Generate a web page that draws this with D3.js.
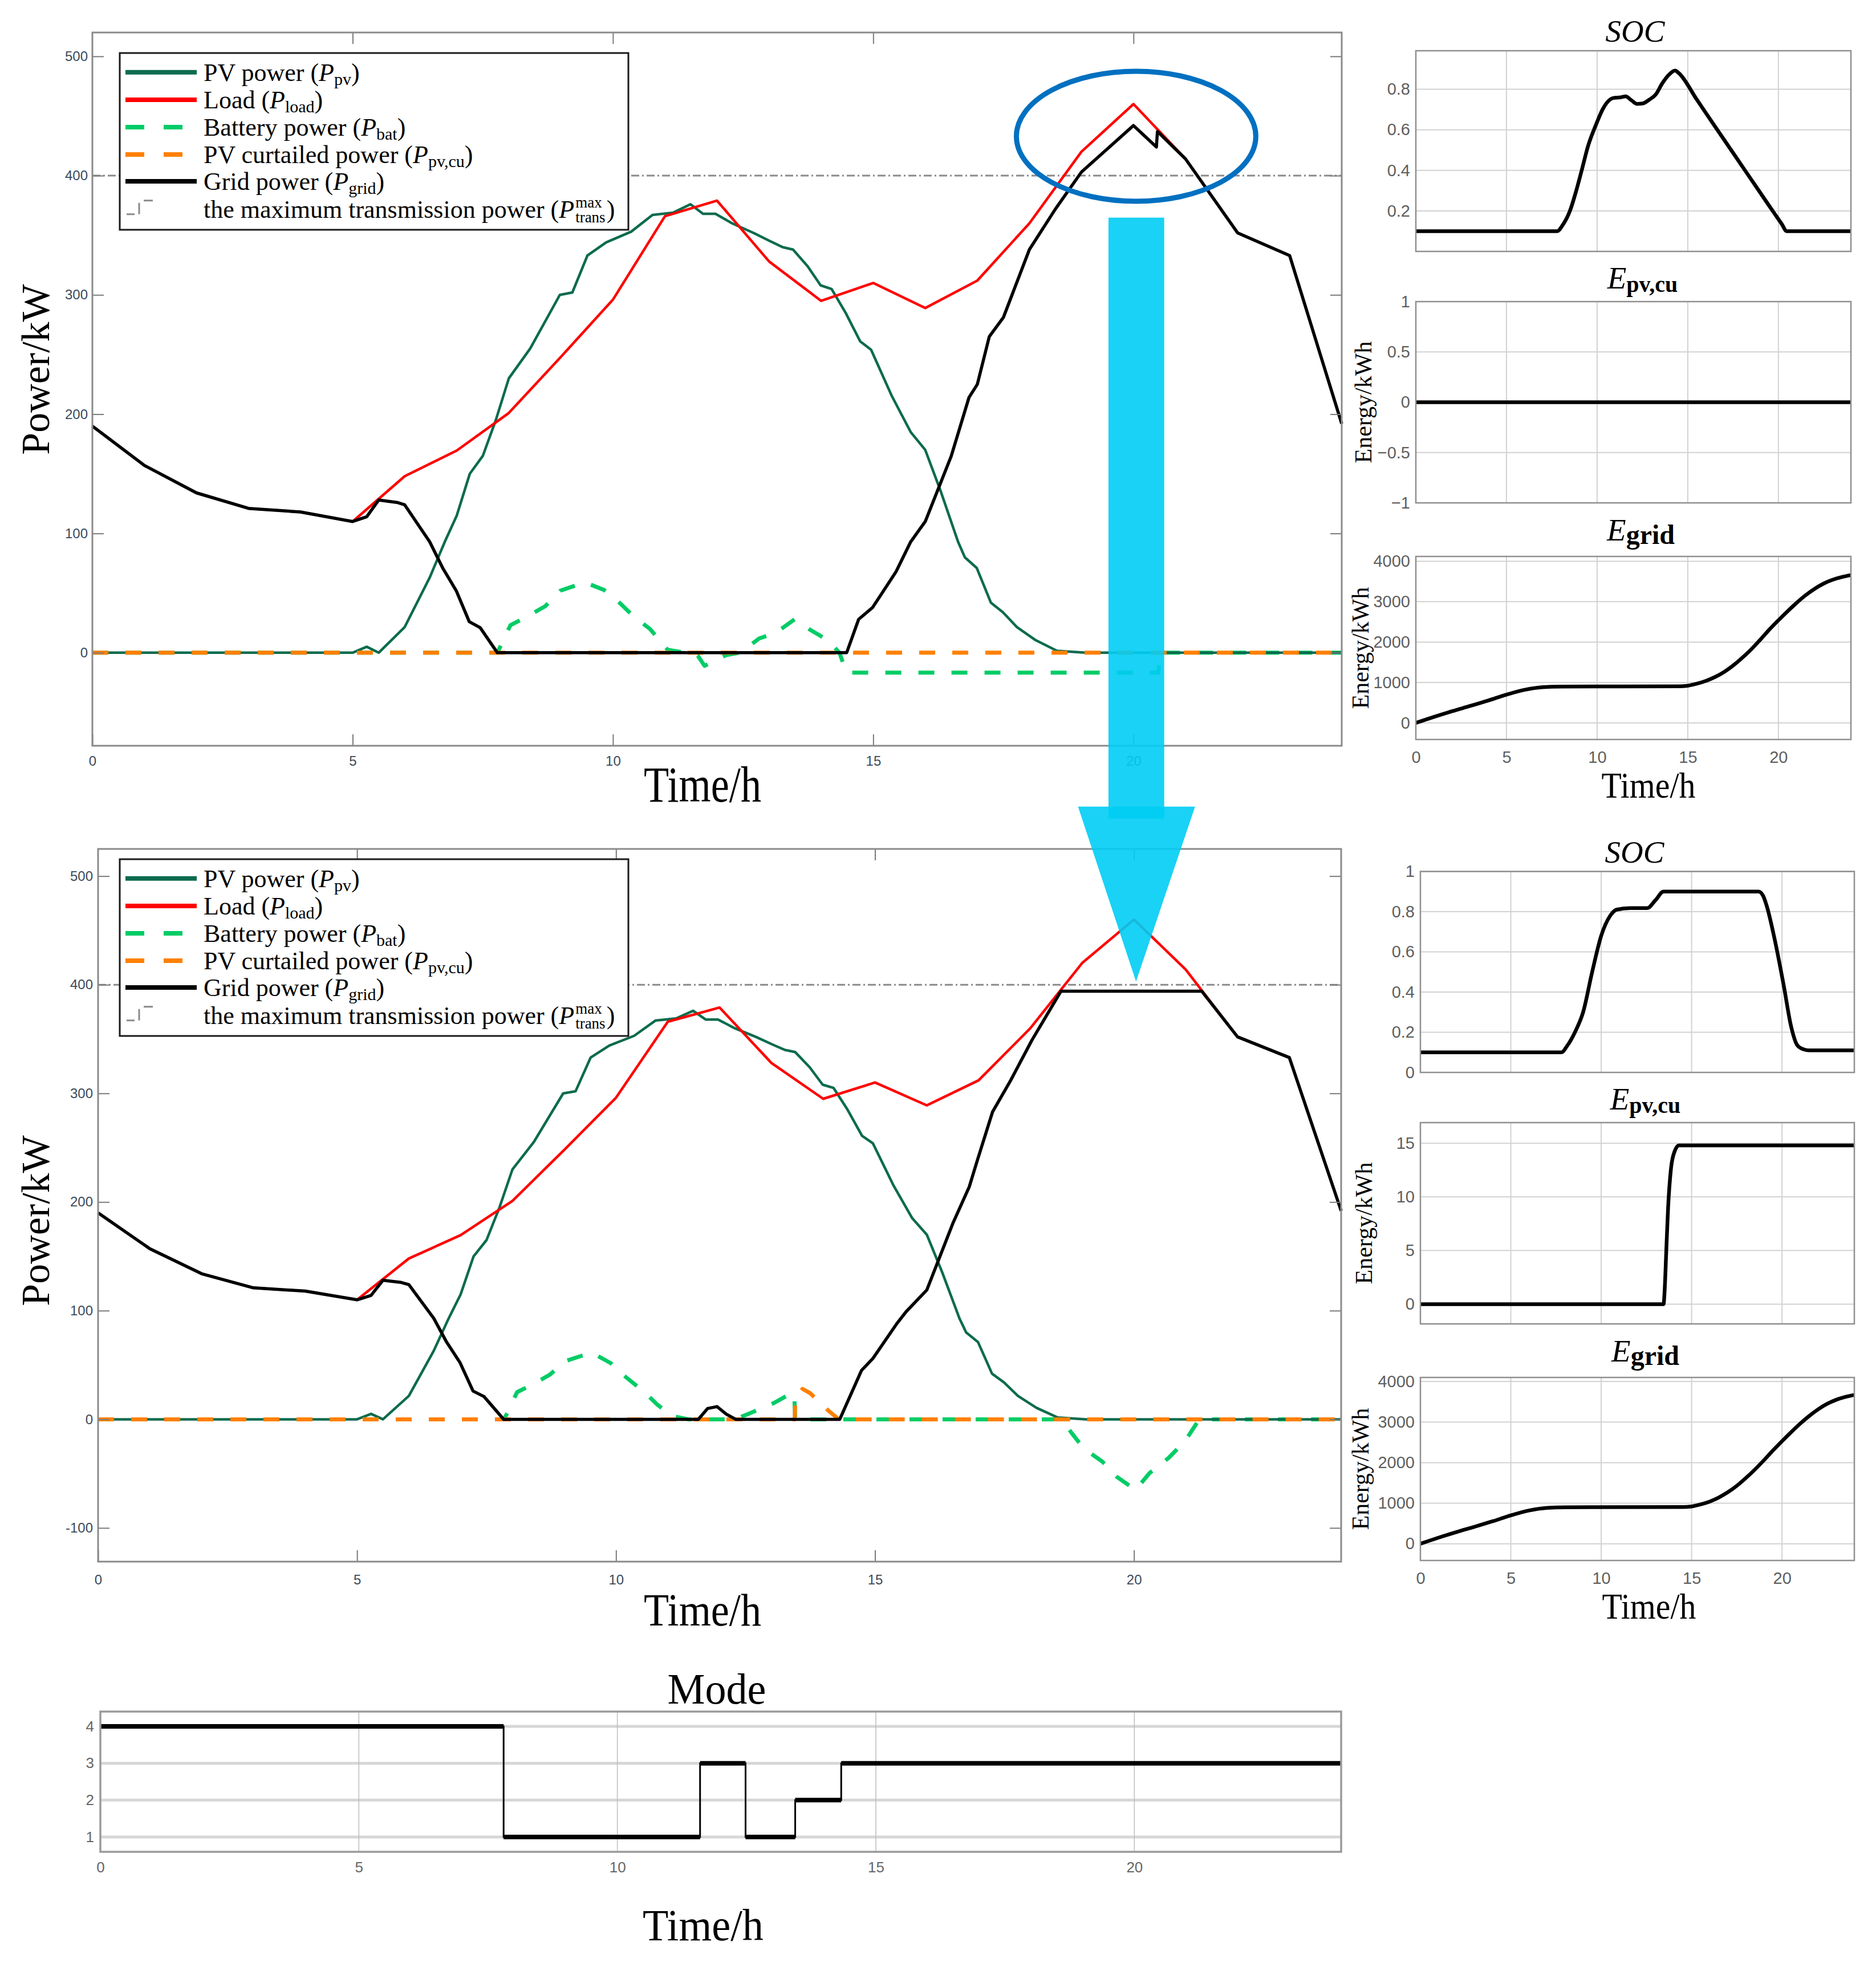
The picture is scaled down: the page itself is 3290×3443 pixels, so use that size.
<!DOCTYPE html>
<html><head><meta charset="utf-8">
<script src="https://cdn.jsdelivr.net/npm/d3@7"></script>
<style>body{margin:0;background:#fff}svg{display:block}</style>
</head><body>
<svg id="c" width="3290" height="3443"></svg>
<script>
// ---------------- DATA ----------------
const timeTicks = [0,5,10,15,20];
const powerTicksTop = [0,100,200,300,400,500];
const powerTicksBottom = [-100,0,100,200,300,400,500];
const modeTicks = [1,2,3,4];
const socTicksTop = [0.2,0.4,0.6,0.8];
const socTicksBottom = [0,0.2,0.4,0.6,0.8,1];
const epvTicksTop = [-1,-0.5,0,0.5,1];
const epvTicksBottom = [0,5,10,15];
const egridTicks = [0,1000,2000,3000,4000];
const maxTrans = 400;

const pvPower = [[0,0],[5,0],[5.27,5],[5.5,0],[6.0,21.5],[6.48,63],[6.77,93],[7.0,115],[7.25,150],[7.5,165],[7.75,195],[8.0,230],[8.41,255],[8.98,300],[9.22,302],[9.51,333],[9.87,344],[10.35,353],[10.76,367],[11.16,369],[11.49,376],[11.73,368],[11.97,368],[12.29,360],[12.7,352],[13.02,345],[13.26,340],[13.46,338],[13.74,324],[13.99,308],[14.2,305],[14.47,285],[14.75,261],[14.96,254],[15.36,215],[15.72,185],[16.0,170],[16.3,135],[16.63,93],[16.76,80],[16.99,71],[17.26,42],[17.49,34],[17.76,21.5],[18.12,10.5],[18.53,1.6],[19.08,0],[24,0]];

const loadPower = [[0,190],[1,157],[2,134],[3,121],[4,118],[5,110],[6,148],[7,169.5],[8,201],[9,248],[10,296],[11,366],[12,379],[13,328],[14,295],[15,310],[16,289],[17,312],[18,360],[19,420],[20,460],[21,414],[22,352],[23,333],[24,192]];

const gridTop = [[0,190],[1,157],[2,134],[3,121],[4,118],[5,110],[5.27,114],[5.5,128],[5.85,126],[6.0,124],[6.48,93],[6.73,71],[6.99,52],[7.24,26],[7.45,21],[7.78,0],[14.49,0],[14.72,28],[14.99,38],[15.44,68],[15.72,93],[16.0,110],[16.5,165],[16.84,214],[17.0,225],[17.23,265],[17.5,281],[18.0,338],[18.5,372],[19.0,403],[20.0,442],[20.44,424],[20.46,437],[21,414],[22,352],[23,333],[24,192]];

const gridBottom = [[0,190],[1,157],[2,134],[3,121],[4,118],[5,110],[5.27,114],[5.5,128],[5.85,126],[6.0,124],[6.48,93],[6.73,71],[6.99,52],[7.24,26],[7.45,21],[7.83,0],[11.59,0],[11.77,10],[11.95,11.7],[12.13,4.7],[12.31,0],[14.32,0],[14.74,45],[14.96,56],[15.42,88],[15.6,99],[16.0,119],[16.5,180],[16.82,214],[16.98,239],[17.27,283],[17.62,312],[18.03,349],[18.59,394],[21.31,394],[22,352],[23,333],[24,192]];

const batteryTop = [[0,0],[7.78,0],[8.03,23],[8.32,29.6],[8.7,39],[8.99,52],[9.46,59],[9.83,52.6],[10.04,45.5],[10.42,29.6],[10.71,20],[11.05,2.5],[11.4,0],[11.63,-2.5],[11.76,-11],[12.17,-2],[12.45,0],[12.81,12],[13.13,16.7],[13.49,28],[13.76,20],[14.13,10.5],[14.35,0],[14.49,-16.7],[20.48,-16.7],[20.5,0],[24,0]];

const batteryBottom = [[0,0],[7.84,0],[8.09,25],[8.39,32],[8.72,41],[9.02,53.5],[9.53,61.5],[9.9,51.6],[10.16,40],[10.54,25.4],[10.79,13.8],[11.08,3],[11.4,0],[12.3,0],[12.54,4.7],[13.05,15],[13.31,22],[13.44,24],[13.46,0],[18.6,0],[18.8,-12.8],[19.03,-26.8],[19.39,-39],[19.67,-53],[20.03,-65],[20.3,-49.5],[20.67,-35.5],[20.99,-19.8],[21.26,0],[24,0]];

const curtailTop = [[0,0],[24,0]];
const curtailBottom = [[0,0],[13.45,0],[13.46,18],[13.6,28],[13.75,24],[13.9,17],[14.1,8],[14.3,0],[24,0]];

const modeSteps = [[0,4],[7.8,1],[11.6,3],[12.48,1],[13.44,2],[14.33,3],[24,3]];

const socTop = [[0,0.1],[7.8,0.1],[8.1,0.13],[8.5,0.2],[8.85,0.3],[9.15,0.4],[9.5,0.52],[9.96,0.63],[10.3,0.7],[10.6,0.74],[10.9,0.757],[11.3,0.76],[11.57,0.765],[11.9,0.745],[12.2,0.728],[12.5,0.73],[12.9,0.75],[13.24,0.775],[13.6,0.83],[14.0,0.875],[14.3,0.892],[14.5,0.88],[15.5,0.749],[16.5,0.617],[17.5,0.486],[18.5,0.355],[19.5,0.224],[20.2,0.133],[20.45,0.1],[21,0.1],[24,0.1]];
const socBottom = [[0,0.1],[7.8,0.1],[8.1,0.13],[8.58,0.206],[9.0,0.3],[9.5,0.5],[10.0,0.68],[10.5,0.78],[10.85,0.81],[11.6,0.818],[12.55,0.818],[13.0,0.857],[13.45,0.9],[18.7,0.9],[18.95,0.88],[19.15,0.83],[19.6,0.66],[20.1,0.43],[20.5,0.23],[20.85,0.135],[21.2,0.115],[21.5,0.11],[24,0.11]];
const epvTop = [[0,0],[24,0]];
const epvBottom = [[0,0],[13.45,0],[13.5,1],[13.6,5],[13.7,9],[13.85,12.5],[14.05,14.2],[14.3,14.8],[24,14.8]];
const egridTop = [[0,0],[1,150],[2,290],[3,420],[4,555],[5,700],[6,820],[7,885],[8,900],[14.5,905],[15,920],[15.5,970],[16,1040],[16.5,1135],[17,1260],[17.5,1420],[18,1610],[18.5,1820],[19,2060],[19.5,2310],[20,2540],[20.5,2760],[21,2970],[21.5,3160],[22,3320],[22.5,3450],[23,3545],[23.5,3610],[24,3660]];
const egridBottom = [[0,0],[1,150],[2,290],[3,420],[4,555],[5,700],[6,820],[7,885],[8,900],[14.5,905],[15,920],[15.5,970],[16,1040],[16.5,1140],[17,1270],[17.5,1430],[18,1620],[18.5,1830],[19,2060],[19.5,2300],[20,2530],[20.5,2750],[21,2960],[21.5,3150],[22,3315],[22.5,3450],[23,3550],[23.5,3620],[24,3670]];

const legendLabels = ['PV power (','Load (','Battery power (','PV curtailed power (','Grid power ('];
const legendSubs = ['pv','load','bat','pv,cu','grid'];

// ---------------- STYLE ----------------
const SERIF = "'Liberation Serif','Times New Roman',serif";
const SANS = "'Liberation Sans',Arial,sans-serif";
const C = {pv:'#0d6b4e', load:'#ff0000', bat:'#00cc66', cur:'#ff8000', grid:'#000000', trans:'#8a8a8a'};
const svg = d3.select('#c');

function styleAxis(ax, size, color) {
  ax.select('.domain').remove();
  ax.selectAll('line').attr('stroke','#7a7a7a').attr('stroke-width',2);
  ax.selectAll('text').attr('font-family',SANS).attr('font-size',size).attr('fill',color);
}

function drawLegend(top) {
  const L = 210, W = 892, H = 310;
  const g = svg.append('g');
  g.append('rect').attr('x',L).attr('y',top).attr('width',W).attr('height',H)
    .attr('fill','#fff').attr('stroke','#1a1a1a').attr('stroke-width',3);
  const colors = [C.pv,C.load,C.bat,C.cur,C.grid];
  const dashes = [null,null,'33,34','33,34',null];
  const baseOff = [48.7,97,145,193,240];
  legendLabels.forEach((lab,i)=>{
    const b = top + baseOff[i];
    g.append('line').attr('x1',220).attr('x2',345).attr('y1',b-15).attr('y2',b-15)
      .attr('stroke',colors[i]).attr('stroke-width',8).attr('stroke-dasharray',dashes[i]);
    const t = g.append('text').attr('x',357).attr('y',b).attr('font-family',SERIF).attr('font-size',44).attr('fill','#000');
    t.append('tspan').text(lab);
    t.append('tspan').attr('font-style','italic').text('P');
    t.append('tspan').attr('font-size',30).attr('dy',7).text(legendSubs[i]);
    t.append('tspan').attr('dy',-7).text(')');
  });
  const b6 = top + 288.7;
  g.append('path').attr('d',`M222,${b6-6}H236M244,${b6-6}V${b6-26}M252,${b6-30}H268`)
    .attr('fill','none').attr('stroke',C.trans).attr('stroke-width',3);
  const t6 = g.append('text').attr('x',357).attr('y',b6).attr('font-family',SERIF).attr('font-size',44);
  t6.append('tspan').text('the maximum transmission power (');
  t6.append('tspan').attr('font-style','italic').text('P');
  const w6 = t6.node().getComputedTextLength();
  g.append('text').attr('x',357+w6+2).attr('y',b6-18).attr('font-family',SERIF).attr('font-size',27).text('max');
  const tr = g.append('text').attr('x',357+w6+2).attr('y',b6+8).attr('font-family',SERIF).attr('font-size',27).text('trans');
  const wt = tr.node().getComputedTextLength();
  g.append('text').attr('x',357+w6+4+wt).attr('y',b6).attr('font-family',SERIF).attr('font-size',44).text(')');
}

function drawMain(o) {
  const x = d3.scaleLinear().domain([0,24]).range([o.left,o.right]);
  const y = d3.scaleLinear().domain(o.yDomain).range([o.bottom,o.top]);
  const g = svg.append('g');
  const ln = d3.line().x(d=>x(d[0])).y(d=>y(d[1]));
  g.append('line').attr('x1',x(0)).attr('x2',x(24)).attr('y1',y(maxTrans)).attr('y2',y(maxTrans))
    .attr('stroke',C.trans).attr('stroke-width',3).attr('stroke-dasharray','14,5,3,5');
  const add = (data,color,w,dash) => g.append('path').datum(data).attr('d',ln).attr('fill','none')
    .attr('stroke',color).attr('stroke-width',w).attr('stroke-linejoin','round').attr('stroke-dasharray',dash);
  add(o.bat, C.bat, 7, '28,30');
  add(pvPower, C.pv, 4.5, null);
  add(loadPower, C.load, 4.5, null);
  add(o.cur, C.cur, 7, '28,30');
  add(o.grid, C.grid, 5.5, null);
  const tc = '#3b4a5a';
  const ab = g.append('g').attr('transform',`translate(0,${o.bottom})`)
    .call(d3.axisBottom(x).tickValues(timeTicks).tickSizeInner(-20).tickSizeOuter(0).tickPadding(o.xPad).tickFormat(d=>String(d)));
  styleAxis(ab,24,tc);
  const at = g.append('g').attr('transform',`translate(0,${o.top})`)
    .call(d3.axisTop(x).tickValues(timeTicks.filter(t=>t>0)).tickSizeInner(-20).tickSizeOuter(0).tickFormat(''));
  styleAxis(at,24,tc);
  const al = g.append('g').attr('transform',`translate(${o.left},0)`)
    .call(d3.axisLeft(y).tickValues(o.yTicks).tickSizeInner(-20).tickSizeOuter(0).tickPadding(o.yPad).tickFormat(d=>String(d)));
  styleAxis(al,24,tc);
  const ar = g.append('g').attr('transform',`translate(${o.right},0)`)
    .call(d3.axisRight(y).tickValues(o.yTicks).tickSizeInner(-20).tickSizeOuter(0).tickFormat(''));
  styleAxis(ar,24,tc);
  g.append('rect').attr('x',o.left).attr('y',o.top).attr('width',o.right-o.left).attr('height',o.bottom-o.top)
    .attr('fill','none').attr('stroke','#8a8a8a').attr('stroke-width',3);
  drawLegend(o.legendTop);
  svg.append('text').attr('transform',`translate(86,${o.yLabelY}) rotate(-90)`).attr('text-anchor','middle')
    .attr('font-family',SERIF).attr('font-size',70).text('Power/kW');
  svg.append('text').attr('x',1232).attr('y',o.xLabelY).attr('text-anchor','middle')
    .attr('font-family',SERIF).attr('font-size',o.xLabelSize).attr('textLength',206).attr('lengthAdjust','spacingAndGlyphs').text('Time/h');
  return {x,y};
}

function drawSmall(o) {
  const x = d3.scaleLinear().domain([0,24]).range([o.left,o.right]);
  const y = d3.scaleLinear().domain(o.domain).range([o.bottom,o.top]);
  const g = svg.append('g');
  g.selectAll('line.gx').data(timeTicks.filter(t=>t>0)).join('line').attr('class','gx')
    .attr('x1',d=>x(d)).attr('x2',d=>x(d)).attr('y1',o.top).attr('y2',o.bottom).attr('stroke','#d2d2d2').attr('stroke-width',2);
  g.selectAll('line.gy').data(o.ticks).join('line').attr('class','gy')
    .attr('x1',o.left).attr('x2',o.right).attr('y1',d=>y(d)).attr('y2',d=>y(d)).attr('stroke','#d2d2d2').attr('stroke-width',2);
  g.append('path').datum(o.data).attr('d',d3.line().x(d=>x(d[0])).y(d=>y(d[1])).curve(o.curve||d3.curveLinear))
    .attr('fill','none').attr('stroke','#000').attr('stroke-width',6.5).attr('stroke-linejoin','round');
  g.append('rect').attr('x',o.left).attr('y',o.top).attr('width',o.right-o.left).attr('height',o.bottom-o.top)
    .attr('fill','none').attr('stroke','#8f8f8f').attr('stroke-width',2.5);
  const al = g.append('g').attr('transform',`translate(${o.left},0)`)
    .call(d3.axisLeft(y).tickValues(o.ticks).tickSize(0).tickPadding(10).tickFormat(o.fmt));
  styleAxis(al,29,'#5e5e5e');
  if (o.xLabels) {
    const ab = g.append('g').attr('transform',`translate(0,${o.bottom})`)
      .call(d3.axisBottom(x).tickValues(timeTicks).tickSize(0).tickPadding(20).tickFormat(d=>String(d)));
    styleAxis(ab,29,'#5e5e5e');
  }
  const cx = (o.left+o.right)/2 + o.titleDx;
  const t = svg.append('text').attr('x',cx).attr('y',o.titleY).attr('text-anchor','middle').attr('font-family',SERIF);
  t.append('tspan').attr('font-style','italic').attr('font-size',55).text(o.title);
  if (o.sub) t.append('tspan').attr('font-weight','bold').attr('font-size',o.subSize).attr('dy',6).text(o.sub);
  if (o.ylab) {
    svg.append('text').attr('transform',`translate(${o.ylabX},${(o.top+o.bottom)/2}) rotate(-90)`).attr('text-anchor','middle')
      .attr('font-family',SERIF).attr('font-size',42).text('Energy/kWh');
  }
  return {x,y};
}

// ---------------- MAIN CHARTS ----------------
const topM = drawMain({left:162,right:2353,top:57,bottom:1308,yDomain:[-78,520],yTicks:powerTicksTop,
  bat:batteryTop,cur:curtailTop,grid:gridTop,xPad:18,yPad:8,legendTop:93,yLabelY:648,xLabelY:1406,xLabelSize:88});
const botM = drawMain({left:172,right:2352,top:1489,bottom:2739,yDomain:[-131,525],yTicks:powerTicksBottom,
  bat:batteryBottom,cur:curtailBottom,grid:gridBottom,xPad:23,yPad:9,legendTop:1507,yLabelY:2141,xLabelY:2851,xLabelSize:80});

// ---------------- MODE ----------------
(function(){
  const x = d3.scaleLinear().domain([0,24]).range([176,2352]);
  const y = d3.scaleLinear().domain([0.6,4.4]).range([3248,3002]);
  const g = svg.append('g');
  g.selectAll('line.gy').data(modeTicks).join('line').attr('class','gy')
    .attr('x1',x(0)).attr('x2',x(24)).attr('y1',d=>y(d)).attr('y2',d=>y(d)).attr('stroke','#d6d6d6').attr('stroke-width',5);
  g.selectAll('line.gx').data(timeTicks.filter(t=>t>0)).join('line').attr('class','gx')
    .attr('x1',d=>x(d)).attr('x2',d=>x(d)).attr('y1',3002).attr('y2',3248).attr('stroke','#bdbdbd').attr('stroke-width',1.5);
  g.append('path').datum(modeSteps).attr('d',d3.line().x(d=>x(d[0])).y(d=>y(d[1])).curve(d3.curveStepAfter))
    .attr('fill','none').attr('stroke','#000').attr('stroke-width',3);
  const segs = modeSteps.slice(0,-1).map((d,i)=>[d[0],modeSteps[i+1][0],d[1]]);
  g.selectAll('line.seg').data(segs).join('line').attr('class','seg')
    .attr('x1',d=>x(d[0])).attr('x2',d=>x(d[1])).attr('y1',d=>y(d[2])).attr('y2',d=>y(d[2]))
    .attr('stroke','#000').attr('stroke-width',8);
  g.append('rect').attr('x',176).attr('y',3002).attr('width',2352-176).attr('height',246)
    .attr('fill','none').attr('stroke','#9a9a9a').attr('stroke-width',3.5);
  const al = g.append('g').attr('transform',`translate(176,0)`)
    .call(d3.axisLeft(y).tickValues(modeTicks).tickSize(0).tickPadding(11).tickFormat(d=>String(d)));
  styleAxis(al,26,'#666');
  const ab = g.append('g').attr('transform',`translate(0,3248)`)
    .call(d3.axisBottom(x).tickValues(timeTicks).tickSize(0).tickPadding(18).tickFormat(d=>String(d)));
  styleAxis(ab,26,'#666');
  svg.append('text').attr('x',1257).attr('y',2988).attr('text-anchor','middle').attr('font-family',SERIF)
    .attr('font-size',76).attr('textLength',173).attr('lengthAdjust','spacingAndGlyphs').text('Mode');
  svg.append('text').attr('x',1233).attr('y',3403).attr('text-anchor','middle').attr('font-family',SERIF)
    .attr('font-size',78).attr('textLength',212).attr('lengthAdjust','spacingAndGlyphs').text('Time/h');
})();

// ---------------- RIGHT PANELS ----------------
const fmtSoc = d => String(d);
const fmtE = d => d<0 ? '\u2212'+Math.abs(d) : String(d);
drawSmall({left:2483,right:3246,top:89,bottom:441,domain:[0,0.99],ticks:socTicksTop,data:socTop,fmt:fmtSoc,
  curve:d3.curveMonotoneX,title:'SOC',titleY:73,titleDx:3});
drawSmall({left:2483,right:3246,top:529,bottom:882,domain:[-1,1],ticks:epvTicksTop,data:epvTop,fmt:fmtE,
  title:'E',sub:'pv,cu',subSize:40,titleY:506,titleDx:16,ylab:true,ylabX:2405});
drawSmall({left:2483,right:3246,top:976,bottom:1297,domain:[-410,4120],ticks:egridTicks,data:egridTop,fmt:fmtE,
  curve:d3.curveMonotoneX,title:'E',sub:'grid',subSize:48,titleY:948,titleDx:13,ylab:true,ylabX:2400,xLabels:true});
drawSmall({left:2491,right:3252,top:1528.5,bottom:1881,domain:[0,1],ticks:socTicksBottom,data:socBottom,fmt:fmtSoc,
  curve:d3.curveMonotoneX,title:'SOC',titleY:1513,titleDx:-5});
drawSmall({left:2491,right:3252,top:1969,bottom:2322,domain:[-1.84,16.93],ticks:epvTicksBottom,data:epvBottom,fmt:fmtE,
  curve:d3.curveMonotoneX,title:'E',sub:'pv,cu',subSize:40,titleY:1946,titleDx:14,ylab:true,ylabX:2406});
drawSmall({left:2491,right:3252,top:2416,bottom:2737,domain:[-412,4100],ticks:egridTicks,data:egridBottom,fmt:fmtE,
  curve:d3.curveMonotoneX,title:'E',sub:'grid',subSize:48,titleY:2388,titleDx:14,ylab:true,ylabX:2400,xLabels:true});
svg.append('text').attr('x',2891).attr('y',1399).attr('text-anchor','middle').attr('font-family',SERIF)
  .attr('font-size',64).attr('textLength',165).attr('lengthAdjust','spacingAndGlyphs').text('Time/h');
svg.append('text').attr('x',2892).attr('y',2839).attr('text-anchor','middle').attr('font-family',SERIF)
  .attr('font-size',64).attr('textLength',165).attr('lengthAdjust','spacingAndGlyphs').text('Time/h');

// ---------------- ANNOTATIONS ----------------
const annEllipse = {t:20.05, v:433, rt:2.3, rv:54.5};
svg.append('ellipse').attr('cx',topM.x(annEllipse.t)).attr('cy',topM.y(annEllipse.v))
  .attr('rx',topM.x(annEllipse.rt)-topM.x(0)).attr('ry',topM.y(0)-topM.y(annEllipse.rv))
  .attr('fill','none').attr('stroke','#0070c0').attr('stroke-width',9);
const arrowShaft = {t0:19.52, t1:20.59, vTop:364.8, vBottom:553};
const arrowHead = {t0:18.92, t1:21.18, tTip:20.04, vTop:564, vTip:403};
svg.append('rect').attr('x',topM.x(arrowShaft.t0)).attr('y',topM.y(arrowShaft.vTop))
  .attr('width',topM.x(arrowShaft.t1)-topM.x(arrowShaft.t0)).attr('height',botM.y(arrowShaft.vBottom)-topM.y(arrowShaft.vTop))
  .attr('fill','#00cdf4').attr('opacity',0.9);
svg.append('path').attr('d',`M${botM.x(arrowHead.t0)},${botM.y(arrowHead.vTop)}L${botM.x(arrowHead.t1)},${botM.y(arrowHead.vTop)}L${botM.x(arrowHead.tTip)},${botM.y(arrowHead.vTip)}Z`)
  .attr('fill','#00cdf4').attr('opacity',0.9);
</script>
</body></html>
